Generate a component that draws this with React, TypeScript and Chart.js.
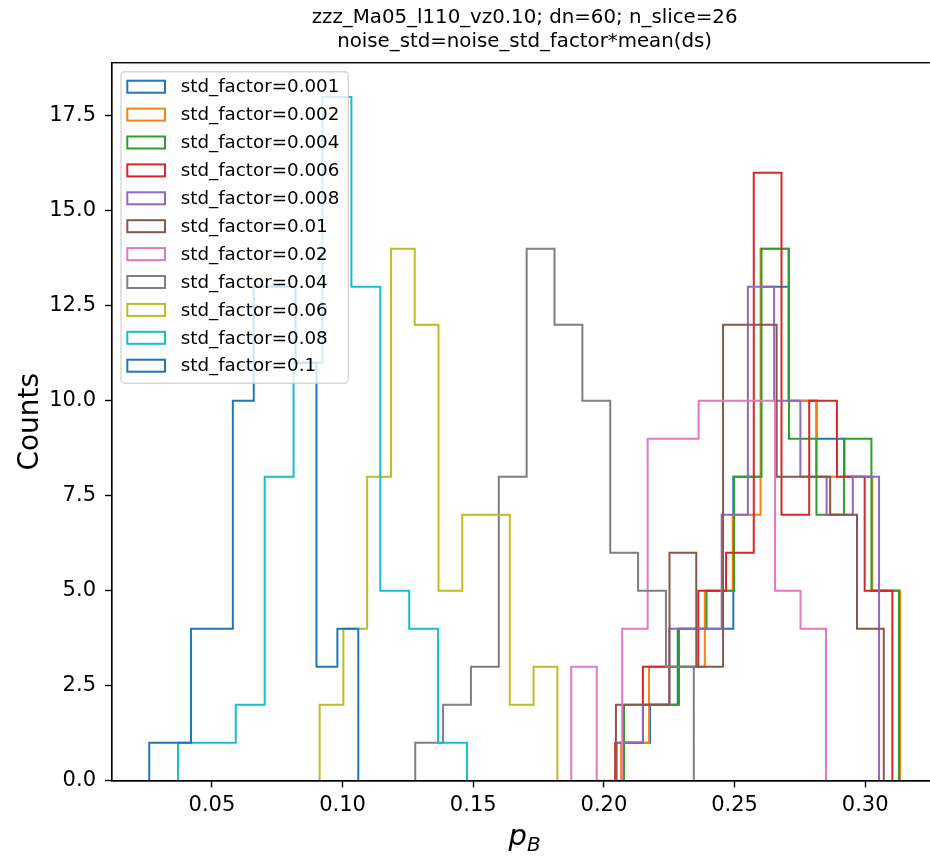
import { useEffect, useRef } from 'react';
import { Chart, registerables } from 'chart.js';

Chart.register(...registerables);

const FONT = "'DejaVu Sans', 'Liberation Sans', sans-serif";

// Noise levels, one histogram per level (tab10 colour cycle)
const STD_FACTORS = ['0.001', '0.002', '0.004', '0.006', '0.008', '0.01', '0.02', '0.04', '0.06', '0.08', '0.1'];
const COLORS = ['#1f77b4', '#ff7f0e', '#2ca02c', '#d62728', '#9467bd', '#8c564b', '#e377c2', '#7f7f7f', '#bcbd22', '#17becf', '#1f77b4'];

// Histogram range (min / max p_B) of each series, 10 equal bins in between
const BIN_LO = [0.2070, 0.2066, 0.2077, 0.2043, 0.2049, 0.2046, 0.1875, 0.1278, 0.0912, 0.0370, 0.0260];
const BIN_HI = [0.3133, 0.3133, 0.3129, 0.3104, 0.3053, 0.3071, 0.2850, 0.2344, 0.1822, 0.1476, 0.1060];

// Bin counts
const COUNTS_0001 = [1, 2, 4, 4, 8, 13, 10, 9, 8, 5];
const COUNTS_0002 = [1, 3, 3, 5, 7, 14, 10, 8, 8, 5];
const COUNTS_0004 = [2, 2, 4, 5, 8, 14, 9, 7, 9, 5];
const COUNTS_0006 = [1, 3, 3, 5, 6, 16, 7, 10, 8, 5];
const COUNTS_0008 = [1, 2, 4, 4, 7, 13, 10, 8, 7, 8];
const COUNTS_001 = [2, 2, 6, 3, 12, 12, 8, 8, 7, 4];
const COUNTS_002 = [3, 0, 4, 9, 9, 10, 10, 10, 5, 4];
const COUNTS_004 = [1, 2, 3, 8, 14, 12, 10, 6, 5, 3];
const COUNTS_006 = [2, 4, 8, 14, 12, 5, 7, 7, 2, 3];
const COUNTS_008 = [1, 1, 2, 8, 11, 18, 13, 5, 4, 1];
const COUNTS_01 = [1, 1, 4, 4, 10, 13, 13, 11, 3, 4];
const COUNTS = [COUNTS_0001, COUNTS_0002, COUNTS_0004, COUNTS_0006, COUNTS_0008, COUNTS_001, COUNTS_002, COUNTS_004, COUNTS_006, COUNTS_008, COUNTS_01];

const X_TICKS = [0.05, 0.10, 0.15, 0.20, 0.25, 0.30];
const X_TICK_LABELS = ['0.05', '0.10', '0.15', '0.20', '0.25', '0.30'];
const Y_TICKS = [0, 2.5, 5, 7.5, 10, 12.5, 15, 17.5];
const Y_TICK_LABELS = ['0.0', '2.5', '5.0', '7.5', '10.0', '12.5', '15.0', '17.5'];

const TITLE_LINES = ['zzz_Ma05_l110_vz0.10; dn=60; n_slice=26', 'noise_std=noise_std_factor*mean(ds)'];

// Outline of a step histogram: up at the first edge, across each bin, down at the last edge
function stepOutline(lo: number, hi: number, counts: number[]) {
  const n = counts.length;
  const w = (hi - lo) / n;
  const pts: { x: number; y: number }[] = [{ x: lo, y: 0 }];
  counts.forEach((c, i) => {
    pts.push({ x: lo + i * w, y: c });
    pts.push({ x: lo + (i + 1) * w, y: c });
  });
  pts.push({ x: hi, y: 0 });
  return pts;
}

// 5% autoscale margins like matplotlib
const DATA_MIN = Math.min(...BIN_LO);
const DATA_MAX = Math.max(...BIN_HI);
const X_MIN = DATA_MIN - 0.05 * (DATA_MAX - DATA_MIN);
const X_MAX = DATA_MAX + 0.05 * (DATA_MAX - DATA_MIN);
const Y_MAX = Math.max(...COUNTS.map((c) => Math.max(...c))) * 1.05;

const decorations = {
  id: 'decorations',
  afterDatasetsDraw(chart: any) {
    const { ctx, chartArea } = chart;
    const { left, top, right, bottom } = chartArea;
    ctx.save();

    // spines
    ctx.strokeStyle = '#000';
    ctx.lineWidth = 1.4;
    ctx.strokeRect(left, top, right - left, bottom - top);

    // title
    ctx.fillStyle = '#000';
    ctx.textAlign = 'center';
    ctx.textBaseline = 'alphabetic';
    ctx.font = `19.8px ${FONT}`;
    const cx = (left + right) / 2;
    ctx.fillText(TITLE_LINES[0], cx, 23);
    ctx.fillText(TITLE_LINES[1], cx, 47);

    // y label
    ctx.save();
    ctx.translate(38, (top + bottom) / 2);
    ctx.rotate(-Math.PI / 2);
    ctx.font = `28px ${FONT}`;
    ctx.textBaseline = 'alphabetic';
    ctx.fillText('Counts', 0, 0);
    ctx.restore();

    // x label: p_B
    ctx.textAlign = 'left';
    ctx.font = `italic 29px ${FONT}`;
    const pW = ctx.measureText('p').width;
    ctx.font = `italic 20px ${FONT}`;
    const bW = ctx.measureText('B').width;
    const x0 = cx - (pW + bW) / 2;
    ctx.font = `italic 29px ${FONT}`;
    ctx.fillText('p', x0, 845);
    ctx.font = `italic 20px ${FONT}`;
    ctx.fillText('B', x0 + pW, 851);

    // legend
    const lx = 121, ly = 71.7, lw = 227.3, lh = 311.6, r = 4;
    ctx.beginPath();
    ctx.moveTo(lx + r, ly);
    ctx.arcTo(lx + lw, ly, lx + lw, ly + lh, r);
    ctx.arcTo(lx + lw, ly + lh, lx, ly + lh, r);
    ctx.arcTo(lx, ly + lh, lx, ly, r);
    ctx.arcTo(lx, ly, lx + lw, ly, r);
    ctx.closePath();
    ctx.fillStyle = 'rgba(255,255,255,0.8)';
    ctx.fill();
    ctx.strokeStyle = 'rgba(204,204,204,0.8)';
    ctx.lineWidth = 1.4;
    ctx.stroke();

    ctx.font = `18.3px ${FONT}`;
    ctx.textBaseline = 'middle';
    STD_FACTORS.forEach((f, i) => {
      const yc = 86.7 + 27.9 * i;
      ctx.strokeStyle = COLORS[i];
      ctx.lineWidth = 2;
      ctx.strokeRect(127.3, yc - 6, 37.7, 12);
      ctx.fillStyle = '#000';
      ctx.fillText(`std_factor=${f}`, 180.7, yc + 1);
    });

    ctx.restore();
  },
};

export default function App() {
  const canvasRef = useRef<HTMLCanvasElement>(null);

  useEffect(() => {
    const canvas = canvasRef.current;
    if (!canvas) return;
    const datasets = COUNTS.map((counts, i) => ({
      label: `std_factor=${STD_FACTORS[i]}`,
      data: stepOutline(BIN_LO[i], BIN_HI[i], counts),
      borderColor: COLORS[i],
      backgroundColor: COLORS[i],
      borderWidth: 2,
      pointRadius: 0,
      fill: false,
      tension: 0,
      order: COUNTS.length - i,
    }));

    const chart = new Chart(canvas, {
      type: 'line',
      data: { datasets },
      plugins: [decorations],
      options: {
        animation: false,
        responsive: false,
        devicePixelRatio: 1,
        layout: { padding: { left: 0, top: 62.7, right: 7.5, bottom: 0 } },
        plugins: {
          legend: { display: false },
          tooltip: { enabled: false },
          title: { display: false },
        },
        scales: {
          x: {
            type: 'linear',
            min: X_MIN,
            max: X_MAX,
            afterBuildTicks: (s: any) => {
              s.ticks = X_TICKS.map((v) => ({ value: v }));
            },
            afterFit: (s: any) => {
              s.height = 75.3;
            },
            ticks: {
              autoSkip: false,
              maxRotation: 0,
              padding: 6,
              color: '#000',
              font: { family: FONT, size: 21 },
              callback: (v: any) => X_TICK_LABELS[X_TICKS.indexOf(Number(v))],
            },
            grid: { drawOnChartArea: false, drawTicks: true, tickLength: 6.7, tickColor: '#000', tickWidth: 1.4 },
            border: { display: true, color: '#000', width: 1.4 },
          },
          y: {
            type: 'linear',
            min: 0,
            max: Y_MAX,
            afterBuildTicks: (s: any) => {
              s.ticks = Y_TICKS.map((v) => ({ value: v }));
            },
            afterFit: (s: any) => {
              s.width = 111.7;
            },
            ticks: {
              autoSkip: false,
              padding: 9,
              color: '#000',
              font: { family: FONT, size: 21 },
              callback: (v: any) => Y_TICK_LABELS[Y_TICKS.indexOf(Number(v))],
            },
            grid: { drawOnChartArea: false, drawTicks: true, tickLength: 6.7, tickColor: '#000', tickWidth: 1.4 },
            border: { display: true, color: '#000', width: 1.4 },
          },
        },
      },
    });
    return () => chart.destroy();
  }, []);

  return (
    <div style={{ position: 'fixed', left: 0, top: 0, width: 930, height: 856, overflow: 'hidden', background: '#fff' }}>
      <canvas ref={canvasRef} width={945} height={856} style={{ display: 'block' }} />
    </div>
  );
}
